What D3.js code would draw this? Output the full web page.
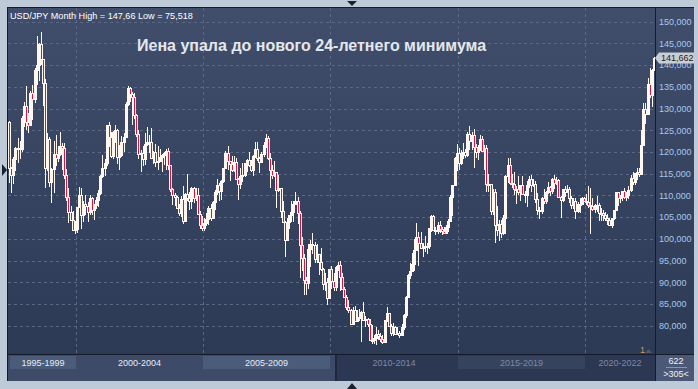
<!DOCTYPE html>
<html><head><meta charset="utf-8">
<script src="https://cdn.jsdelivr.net/npm/d3@7"></script>
<style>html,body{margin:0;padding:0;background:#bfcad8;}svg{display:block;}</style>
</head><body><svg id="c" width="698" height="389"></svg>
<script>
// Monthly USD/JPY candles, May 1997 .. Sep 2022 (305 bars)
const firstMonth = [1997, 4];   // May 1997 (JS month index)
const lastMonth = [2022, 8];    // Sep 2022
const open = [
126.9,116.4,114.6,118.4,121.0,120.9,120.6,127.8,
130.5,126.8,126.2,133.5,132.2,138.8,140.1,144.8,141.5,135.8,116.2,122.9,
113.2,116.0,119.6,118.5,119.5,121.4,120.9,114.6,109.7,106.2,104.3,102.1,
102.2,107.3,110.1,105.5,108.1,107.6,106.1,109.4,106.7,107.7,108.9,110.6,
114.4,116.4,117.4,126.1,123.5,119.0,124.6,125.0,118.8,119.2,122.4,123.5,
131.0,134.7,133.4,132.7,128.5,124.1,119.5,119.8,118.3,121.8,122.4,122.3,
118.7,119.9,117.6,118.0,118.9,119.2,119.8,120.3,117.0,111.5,110.0,109.6,
107.2,105.9,109.1,104.2,110.4,109.5,108.7,111.6,109.3,110.1,105.8,103.1,
102.6,103.6,104.6,107.2,104.9,108.4,110.9,112.5,111.0,113.4,116.4,119.7,
118.0,117.2,115.8,117.7,113.7,112.6,114.4,114.7,117.4,118.1,117.0,115.8,
119.1,120.7,118.5,117.8,119.5,121.7,123.2,118.6,115.8,114.8,115.3,111.2,
111.7,106.4,103.8,99.7,103.9,105.5,106.2,108.0,108.8,106.0,98.5,95.5,
90.6,89.9,97.6,98.8,98.6,95.3,96.4,94.7,93.0,89.7,90.1,86.4,
93.0,90.3,89.0,93.5,94.0,91.2,88.4,86.5,84.2,83.5,80.4,83.7,
81.1,82.1,81.8,83.1,81.2,81.5,80.5,76.8,76.6,77.1,78.2,77.6,
76.9,76.2,81.2,82.9,80.0,78.3,79.8,78.1,78.4,77.9,79.8,82.5,
86.7,91.7,92.6,94.2,97.4,100.5,99.1,97.9,98.2,98.3,98.4,102.4,
105.3,102.0,101.8,103.2,102.2,101.8,101.3,102.8,104.1,109.7,112.3,118.6,
119.8,117.5,119.6,120.1,119.4,124.1,122.5,123.9,121.2,119.9,120.6,123.1,
120.2,121.0,112.7,112.6,106.3,110.7,103.2,102.1,103.4,101.4,104.8,114.5,
117.0,112.8,112.6,111.4,111.5,110.8,112.4,110.3,110.0,112.5,113.7,112.5,
112.7,109.2,106.7,106.3,109.3,108.8,110.7,111.9,111.0,113.7,112.9,113.5,
109.7,108.9,111.4,110.9,111.4,109.3,107.9,108.8,106.3,108.1,108.0,109.5,
108.6,108.4,107.9,107.5,106.9,107.8,107.9,105.9,105.9,105.5,104.7,104.3,
103.2,104.7,106.6,110.7,109.3,109.6,111.1,109.7,110.0,111.3,113.9,113.2,
115.1,115.3,115.0,121.7,129.8,128.7,135.7,133.2,138.9];
const high = [
127.2,116.5,118.9,121.1,123.3,122.5,128.2,131.6,
135.1,129.0,134.0,135.5,139.4,146.8,145.0,147.66,141.5,136.9,124.3,123.5,
116.3,122.5,124.0,121.4,124.5,122.1,122.0,116.0,111.6,107.6,106.4,104.0,
107.3,112.0,111.8,108.8,110.2,108.5,110.0,109.6,108.1,109.6,111.3,114.6,
119.4,118.3,126.2,126.8,124.5,124.9,126.1,125.2,121.6,123.6,124.4,131.6,
135.2,135.0,133.8,133.5,128.7,125.0,120.5,121.4,124.3,125.7,123.8,125.5,
120.2,121.8,121.4,120.6,119.5,120.0,120.8,121.0,117.1,111.8,110.5,109.8,
108.0,109.9,112.1,110.5,114.9,110.9,112.0,111.9,111.6,111.7,106.3,105.2,
104.9,106.0,107.6,108.1,108.6,111.2,113.7,112.8,113.6,116.4,120.2,121.4,
118.0,119.0,119.0,118.7,113.9,116.4,117.4,117.5,118.3,119.9,118.2,119.3,
122.2,122.2,118.9,120.0,122.2,124.1,123.6,119.8,117.0,117.9,115.5,114.7,
111.8,108.6,104.2,104.7,105.6,108.6,108.6,110.7,109.7,106.5,100.5,96.5,
91.3,98.9,99.7,101.4,99.2,98.9,96.6,97.8,93.4,92.2,91.0,93.1,
93.8,92.1,93.8,94.7,94.9,92.2,88.9,87.0,85.9,83.9,84.4,84.5,
83.7,83.9,83.3,85.5,82.2,81.7,81.5,80.2,77.9,79.6,79.0,78.3,
77.8,81.2,84.2,83.0,80.5,80.6,79.9,79.6,78.8,80.3,82.8,86.8,
91.8,94.5,96.7,99.9,103.7,101.5,101.5,99.1,100.6,99.0,102.6,105.4,
105.4,102.8,103.8,104.1,102.8,102.8,103.1,104.5,110.1,112.5,118.9,121.8,
121.0,120.5,122.0,120.8,124.5,125.9,124.6,125.3,121.8,121.5,123.8,123.7,
121.7,121.5,114.9,112.7,111.5,111.4,107.5,104.3,104.3,105.5,114.8,118.7,
118.6,114.9,115.5,112.2,114.4,112.5,114.5,111.0,113.3,114.5,114.7,113.8,
113.4,110.5,107.3,109.6,111.4,111.0,113.2,112.2,114.0,114.6,114.2,113.8,
109.9,111.5,112.1,112.4,112.0,109.9,109.3,109.3,108.5,109.3,109.7,109.7,
110.3,112.2,111.7,109.4,108.1,109.8,108.2,107.0,106.6,106.1,105.7,104.8,
104.9,106.7,110.9,110.9,110.2,111.1,111.7,110.8,112.1,114.7,115.5,115.2,
116.4,116.3,125.1,131.3,131.3,137.0,139.4,139.1,141.8];
const low = [
112.9,110.6,112.6,115.6,117.5,118.3,119.9,125.8,
125.1,124.3,126.1,127.3,131.2,135.4,136.4,140.0,130.5,111.6,115.7,112.0,
108.3,110.5,116.7,117.6,119.1,115.8,113.8,108.6,103.7,104.0,101.7,101.2,
101.4,107.0,102.2,103.8,105.5,103.9,105.4,105.5,104.3,106.8,107.4,110.2,
114.0,114.5,116.8,121.1,118.5,118.3,122.0,117.3,115.8,118.9,119.9,123.2,
130.5,131.6,126.1,127.6,123.5,118.4,115.5,116.7,116.9,121.4,119.8,118.4,
117.3,116.6,115.8,117.6,115.5,116.9,115.8,115.9,110.9,107.9,107.6,106.8,
105.3,105.1,103.4,103.9,108.6,106.7,106.9,108.2,108.6,105.6,102.3,101.8,
101.7,103.0,103.2,104.2,104.6,106.6,110.2,108.8,109.0,112.9,116.3,115.8,
113.4,115.5,115.3,113.6,108.9,111.4,113.2,114.3,115.5,116.6,115.4,114.4,
118.5,117.9,115.1,117.6,118.8,121.0,118.2,111.6,113.8,114.2,107.2,110.8,
104.9,103.6,95.8,99.7,102.2,103.9,103.8,107.7,103.5,90.9,92.5,87.1,
87.1,88.5,93.6,96.4,94.5,94.5,91.7,92.6,88.2,88.0,84.8,86.3,
88.5,88.1,88.1,92.6,88.0,88.2,86.3,83.6,82.9,80.2,80.3,80.9,
80.9,81.0,76.3,81.1,79.6,79.7,76.7,75.9,75.9,75.52,76.6,76.3,
75.9,76.1,80.9,79.8,77.7,77.7,77.9,78.0,77.1,77.9,79.1,81.7,
86.5,90.8,92.5,92.6,97.3,93.8,97.6,95.8,96.9,96.6,97.6,101.6,
101.8,100.8,101.2,101.4,100.8,101.1,101.1,101.5,104.0,105.2,112.3,115.6,
115.9,116.9,118.3,118.5,118.9,120.4,120.4,116.2,118.6,118.1,120.2,119.9,
115.9,110.9,110.7,105.5,105.5,99.0,100.7,99.5,100.1,100.9,101.2,112.9,
112.5,111.6,110.1,108.1,110.2,108.8,110.0,108.3,107.3,111.7,110.8,111.9,
108.3,105.6,104.6,105.7,108.1,108.1,110.3,109.8,110.4,111.4,112.3,109.6,
104.9,108.5,109.7,110.8,108.3,106.8,106.8,104.5,105.9,105.9,107.9,108.4,
107.7,107.0,101.2,106.4,105.9,106.1,104.2,104.2,104.0,104.0,103.2,102.9,
102.6,104.4,106.4,107.5,108.3,108.6,109.1,108.7,109.1,110.8,112.5,112.5,
113.5,114.2,114.7,121.3,126.4,128.6,132.5,130.4,138.7];
const close = [
116.4,114.6,118.4,121.0,120.9,120.6,127.8,130.5,
126.8,126.2,133.5,132.2,138.8,140.1,144.8,141.5,135.8,116.2,122.9,113.2,
116.0,119.6,118.5,119.5,121.4,120.9,114.6,109.7,106.2,104.3,102.1,102.2,
107.3,110.1,105.5,108.1,107.6,106.1,109.4,106.7,107.7,108.9,110.6,114.4,
116.4,117.4,126.1,123.5,119.0,124.6,125.0,118.8,119.2,122.4,123.5,131.0,
134.7,133.4,132.7,128.5,124.1,119.5,119.8,118.3,121.8,122.4,122.3,118.7,
119.9,117.6,118.0,118.9,119.2,119.8,120.3,117.0,111.5,110.0,109.6,107.2,
105.9,109.1,104.2,110.4,109.5,108.7,111.6,109.3,110.1,105.8,103.1,102.6,
103.6,104.6,107.2,104.9,108.4,110.9,112.5,111.0,113.4,116.4,119.7,118.0,
117.2,115.8,117.7,113.7,112.6,114.4,114.7,117.4,118.1,117.0,115.8,119.1,
120.7,118.5,117.8,119.5,121.7,123.2,118.6,115.8,114.8,115.3,111.2,111.7,
106.4,103.8,99.7,103.9,105.5,106.2,108.0,108.8,106.0,98.5,95.5,90.6,
89.9,97.6,98.8,98.6,95.3,96.4,94.7,93.0,89.7,90.1,86.4,93.0,
90.3,89.0,93.5,94.0,91.2,88.4,86.5,84.2,83.5,80.4,83.7,81.1,
82.1,81.8,83.1,81.2,81.5,80.5,76.8,76.6,77.1,78.2,77.6,76.9,
76.2,81.2,82.9,80.0,78.3,79.8,78.1,78.4,77.9,79.8,82.5,86.7,
91.7,92.6,94.2,97.4,100.5,99.1,97.9,98.2,98.3,98.4,102.4,105.3,
102.0,101.8,103.2,102.2,101.8,101.3,102.8,104.1,109.7,112.3,118.6,119.8,
117.5,119.6,120.1,119.4,124.1,122.5,123.9,121.2,119.9,120.6,123.1,120.2,
121.0,112.7,112.6,106.3,110.7,103.2,102.1,103.4,101.4,104.8,114.5,117.0,
112.8,112.6,111.4,111.5,110.8,112.4,110.3,110.0,112.5,113.7,112.5,112.7,
109.2,106.7,106.3,109.3,108.8,110.7,111.9,111.0,113.7,112.9,113.5,109.7,
108.9,111.4,110.9,111.4,109.3,107.9,108.8,106.3,108.1,108.0,109.5,108.6,
108.4,107.9,107.5,106.9,107.8,107.9,105.9,105.9,105.5,104.7,104.3,103.2,
104.7,106.6,110.7,109.3,109.6,111.1,109.7,110.0,111.3,113.9,113.2,115.1,
115.3,115.0,121.7,129.8,128.7,135.7,133.2,138.9,141.662];
const yTicks = [80,85,90,95,100,105,110,115,120,125,130,135,140,145,150];
const gridYears = [2000,2005,2010,2015,2020];
const periodLabels = ["1995-1999","2000-2004","2005-2009","2010-2014","2015-2019","2020-2022"];
const titleText = "USD/JPY Month High = 147,66 Low = 75,518";
const headline = "Иена упала до нового 24-летнего минимума";
const lastLabel = "141,662";
const totalBars = "622";
const visibleBars = ">305<";

// ---------- drawing ----------
const svg = d3.select("#c");
const W = 698, H = 389;
const PL = 8, PR = 655, PT = 8, PB = 354, AXR = 694, BB = 381;
const months = d3.timeMonth.range(new Date(firstMonth[0], firstMonth[1], 1), new Date(lastMonth[0], lastMonth[1] + 1, 1));
const data = months.map((m, i) => ({m, o: open[i], h: high[i], l: low[i], c: close[i]}));

const x = d3.scaleBand().domain(d3.range(months.length)).range([PL, PR]).padding(0);
const y = d3.scaleLinear().domain([80, 150]).range([325.7, 21.7]);
const idxOfYear = yr => months.findIndex(m => m.getFullYear() === yr && m.getMonth() === 0);

const defs = svg.append("defs");
const g1 = defs.append("linearGradient").attr("id", "bg").attr("x1", 0).attr("y1", 0).attr("x2", 0).attr("y2", 1);
g1.append("stop").attr("offset", 0).attr("stop-color", "#414e6b");
g1.append("stop").attr("offset", 1).attr("stop-color", "#2d3a56");
defs.append("clipPath").attr("id", "clip").append("rect").attr("x", PL).attr("y", PT).attr("width", PR - PL).attr("height", PB - PT);

// outer background
svg.append("rect").attr("width", W).attr("height", H).attr("fill", "#bfcad8");
// plot + axis panel background
svg.append("rect").attr("x", PL).attr("y", PT).attr("width", AXR - PL).attr("height", PB - PT).attr("fill", "url(#bg)");

// grid
const grid = svg.append("g").attr("stroke", "#5a6884").attr("stroke-width", 1).attr("stroke-dasharray", "3,3");
grid.selectAll("line.h").data(yTicks).join("line").attr("class", "h")
  .attr("x1", PL).attr("x2", PR).attr("y1", d => Math.round(y(d)) + 0.5).attr("y2", d => Math.round(y(d)) + 0.5);
grid.selectAll("line.v").data(gridYears).join("line").attr("class", "v")
  .attr("x1", d => Math.round(x(idxOfYear(d))) + 0.5).attr("x2", d => Math.round(x(idxOfYear(d))) + 0.5)
  .attr("y1", PT).attr("y2", PB);

// candles
const cg = svg.append("g").attr("clip-path", "url(#clip)");
const cx = i => Math.round(x(i) + x.bandwidth() / 2);
cg.selectAll("line.w").data(data).join("line").attr("class", "w")
  .attr("x1", (d, i) => cx(i) + 0.5).attr("x2", (d, i) => cx(i) + 0.5)
  .attr("y1", d => Math.round(y(d.h))).attr("y2", d => Math.round(y(d.l)))
  .attr("stroke", "#fff7f0").attr("stroke-width", 1);
cg.selectAll("rect.b").data(data).join("rect").attr("class", "b")
  .attr("x", (d, i) => cx(i) - 0.5)
  .attr("width", 2)
  .attr("y", d => Math.round(y(Math.max(d.o, d.c))) + 0.5)
  .attr("height", d => Math.max(1, Math.round(y(Math.min(d.o, d.c))) - Math.round(y(Math.max(d.o, d.c)))))
  .attr("fill", d => d.c < d.o ? "#e0103c" : "#fff7f0")
  .attr("stroke", "#fff7f0").attr("stroke-width", 1);

// frame lines
const frame = svg.append("g").attr("stroke", "#151b28").attr("stroke-width", 1);
frame.append("line").attr("x1", PL - 0.5).attr("x2", PL - 0.5).attr("y1", PT - 1).attr("y2", BB);
frame.append("line").attr("x1", PL - 1).attr("x2", AXR).attr("y1", PT - 0.5).attr("y2", PT - 0.5);
frame.append("line").attr("x1", PR + 0.5).attr("x2", PR + 0.5).attr("y1", PT).attr("y2", BB);
frame.append("line").attr("x1", PL).attr("x2", AXR).attr("y1", PB + 0.5).attr("y2", PB + 0.5);

// right axis labels
const fmt = v => d3.format(",.3f")(v).replace(".", "#").replace(/,/g, ".").replace("#", ",").replace(/^(\d+)\.(\d{3}),/, "$1$2,");
svg.append("g").selectAll("text").data(yTicks).join("text")
  .attr("x", 659).attr("y", d => y(d) + 3.3)
  .attr("font-family", "Liberation Sans, Arial, sans-serif").attr("font-size", 9)
  .attr("fill", "#a6c8ee")
  .text(d => d3.format(".3f")(d).replace(".", ","));

// last price tag
const lastY = y(close[close.length - 1]);
svg.append("path")
  .attr("d", `M655,${lastY} L659,${lastY - 5.5} L694,${lastY - 5.5} L694,${lastY + 5.5} L659,${lastY + 5.5} Z`)
  .attr("fill", "#c9cdd5");
svg.append("text").attr("x", 661).attr("y", lastY + 3.3)
  .attr("font-family", "Liberation Sans, Arial, sans-serif").attr("font-size", 9).attr("fill", "#1a1d24")
  .text(lastLabel);

// bottom bar
const bounds = [PL + 2].concat(gridYears.map(d => Math.round(x(idxOfYear(d))))).concat([PR]);
svg.append("rect").attr("x", PL).attr("y", PB + 1).attr("width", 336 - PL).attr("height", BB - PB - 1).attr("fill", "#3d4b68");
svg.append("rect").attr("x", 337).attr("y", PB + 1).attr("width", PR - 337).attr("height", BB - PB - 1).attr("fill", "#2c3853");
svg.append("rect").attr("x", 335).attr("y", PB + 1).attr("width", 2).attr("height", BB - PB - 1).attr("fill", "#1f2739");
const bandFill = ["#4b5b7a", null, "#4b5b7a", null, "#35435f", null];
periodLabels.forEach((lab, i) => {
  const a = bounds[i], b = bounds[i + 1];
  if (bandFill[i]) svg.append("rect").attr("x", a).attr("y", 356).attr("width", b - a).attr("height", 13).attr("fill", bandFill[i]);
  svg.append("text").attr("x", (a + b) / 2).attr("y", 365.5).attr("text-anchor", "middle")
    .attr("font-family", "Liberation Sans, Arial, sans-serif").attr("font-size", 9)
    .attr("fill", i < 3 ? "#e6ebf4" : "#7d8aa3").text(lab);
});
// bottom-right box
svg.append("rect").attr("x", PR + 1).attr("y", PB + 1).attr("width", AXR - PR - 1).attr("height", BB - PB - 1).attr("fill", "#4b5977");
svg.append("text").attr("x", 676).attr("y", 364).attr("text-anchor", "middle")
  .attr("font-family", "Liberation Sans, Arial, sans-serif").attr("font-size", 9).attr("fill", "#eef2f8").text(totalBars);
svg.append("line").attr("x1", 666).attr("x2", 687).attr("y1", 367.5).attr("y2", 367.5).attr("stroke", "#8a96ad");
svg.append("text").attr("x", 676).attr("y", 376.5).attr("text-anchor", "middle")
  .attr("font-family", "Liberation Sans, Arial, sans-serif").attr("font-size", 9).attr("fill", "#eef2f8").text(visibleBars);

// "1" marker
svg.append("text").attr("x", 640).attr("y", 352.5)
  .attr("font-family", "Liberation Sans, Arial, sans-serif").attr("font-size", 9).attr("fill", "#cf955c").text("1");
svg.append("path").attr("d", "M645,353 L648.5,349 L652,353 Z").attr("fill", "#4e5a74");

// titles
svg.append("text").attr("x", 10).attr("y", 19)
  .attr("font-family", "Liberation Sans, Arial, sans-serif").attr("font-size", 9.1).attr("fill", "#ffffff").text(titleText);
svg.append("text").attr("x", 137).attr("y", 51)
  .attr("font-family", "Liberation Sans, Arial, sans-serif").attr("font-size", 16).attr("font-weight", "bold")
  .attr("fill", "#e4e7ee").text(headline);

// navigation triangles
svg.append("path").attr("d", "M347,1 L357,1 L352,6 Z").attr("fill", "#1a2232");
svg.append("path").attr("d", "M347,389 L357,389 L352,383 Z").attr("fill", "#1a2232");
svg.append("path").attr("d", "M2,164 L7,170 L2,176 Z").attr("fill", "#1a2232");
</script></body></html>
